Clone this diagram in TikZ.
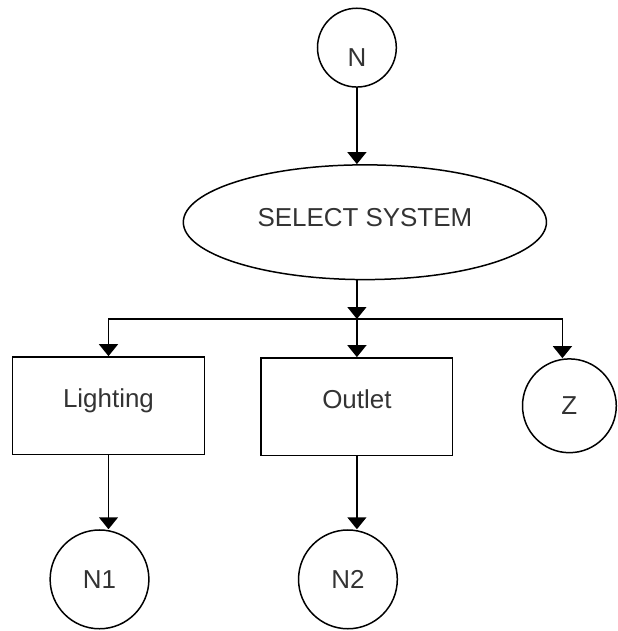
\documentclass[tikz,border=0pt]{standalone}
\usepackage{fontspec}
\setmainfont{Liberation Sans}
\usetikzlibrary{shapes,arrows.meta}

\begin{document}
\begin{tikzpicture}[x=1pt, y=-1pt, line width=1.5pt, >={Triangle[width=19pt,length=12pt]}]

  \fontsize{26}{31}\selectfont

  \tikzset{
    conn/.style={draw, circle, inner sep=0pt, minimum size=99pt, text=black!80},
    sysbox/.style={draw, rectangle, minimum width=192pt, minimum height=98pt, text height=19pt, text depth=16pt, text=black!80},
  }

  \draw[fill=white, color=white, opacity=0] (0, 0) rectangle (617, 631);

  \node[conn, minimum size=79pt, text height=38pt, text depth=0pt] (N) at (357, 47) {N};
  \node[draw, ellipse, minimum width=364pt, minimum height=115pt, text height=19pt, text depth=10pt, text=black!80] (sel) at (365, 222) {SELECT SYSTEM};

  \coordinate (bus) at (357, 319);

  \node[sysbox] (light) at (108, 406) {Lighting};
  \node[sysbox] (outlet) at (357, 407) {Outlet};
  \node[conn, minimum size=94pt] (Z) at (570, 406) {Z};

  \node[conn] (N1) at (99, 580) {N1};
  \node[conn] (N2) at (348, 580) {N2};

  \draw[->] (N.south) -- (N.south |- sel.north); % N->select
  \draw[->] (bus |- sel.south) -- (bus); % select->bus

  \draw[->] (bus) -| (light.north); % bus->Lighting
  \draw[->] (bus) -- (outlet.north); % bus->Outlet
  \draw[->] (bus) -| ([xshift=-7pt]Z.north); % bus->Z

  \draw[->] (light.south) -- (light.south |- N1.north); % Lighting->N1
  \draw[->] (outlet.south) -- (outlet.south |- N2.north); % Outlet->N2

\end{tikzpicture}
\end{document}
